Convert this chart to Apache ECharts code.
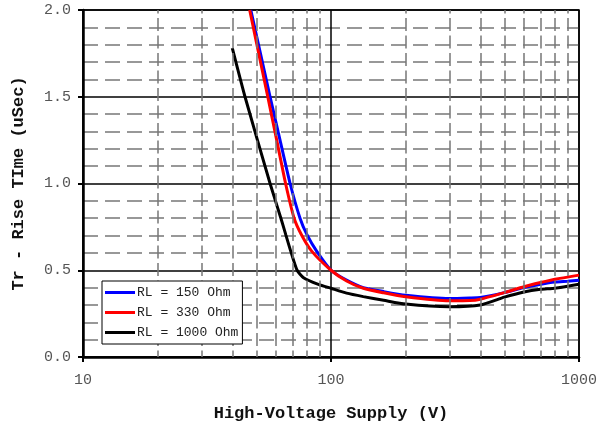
<!DOCTYPE html>
<html>
<head>
<meta charset="utf-8">
<script src="https://cdn.jsdelivr.net/npm/echarts@6/dist/echarts.min.js"></script>
<style>
  html, body { margin: 0; padding: 0; background: #fff; }
  #chart { width: 606px; height: 427px; }
</style>
</head>
<body>
<div id="chart"></div>
<script>
// supply voltage (V) and rise time (uSec)
const v150 = [47.5, 56.8, 62.3, 68.4, 75, 80, 87.5, 100, 115, 135, 163, 200, 300, 363, 400, 500, 600, 700, 800, 900, 1000]
const t150 = [2.0, 1.5, 1.25, 1.0, 0.8, 0.705, 0.61, 0.5, 0.445, 0.40, 0.377, 0.356, 0.337, 0.34, 0.343, 0.371, 0.40, 0.419, 0.432, 0.437, 0.443]

const v330 = [47.0, 55.6, 60.4, 65.6, 71, 76, 83.6, 100, 115.6, 135, 163, 200, 300, 363, 400, 500, 600, 700, 800, 1000]
const t330 = [2.0, 1.5, 1.25, 1.0, 0.8, 0.705, 0.61, 0.5, 0.438, 0.396, 0.37, 0.347, 0.324, 0.325, 0.333, 0.371, 0.405, 0.429, 0.448, 0.472]

const v1000 = [40, 45, 56.8, 62.8, 65.7, 68.8, 73, 77.5, 88.9, 100, 115.6, 135, 163, 200, 300, 400, 500, 600, 700, 800, 1000]
const t1000 = [1.78, 1.5, 1.0, 0.8, 0.705, 0.61, 0.5, 0.457, 0.419, 0.396, 0.368, 0.348, 0.327, 0.305, 0.29, 0.30, 0.345, 0.375, 0.39, 0.396, 0.419]

const seriesNames = ['RL = 150 Ohm', 'RL = 330 Ohm', 'RL = 1000 Ohm']
const xMinorLines = [20, 30, 40, 50, 60, 70, 80, 90, 200, 300, 400, 500, 600, 700, 800, 900]

const pairs = (xs, ys) => xs.map((x, i) => [x, ys[i]])

const chart = echarts.init(document.getElementById('chart'))

const mono = '"Liberation Mono", "DejaVu Sans Mono", monospace'

const curve = (name, color, data) => ({
  name: name,
  type: 'line',
  data: data,
  showSymbol: false,
  symbol: 'none',
  smooth: 0.2,
  z: 3,
  lineStyle: { color: color, width: 3 },
  itemStyle: { color: color }
})

const option = {
  animation: false,
  backgroundColor: '#fff',
  grid: {
    left: 83, right: 27, top: 10, bottom: 67,
    show: true,
    borderColor: '#000',
    borderWidth: 1.5
  },
  legend: {
    data: seriesNames,
    orient: 'vertical',
    left: 102,
    top: 281,
    z: 100,
    zlevel: 1,
    icon: 'rect',
    itemWidth: 30,
    itemHeight: 3,
    itemGap: 7,
    padding: [5, 4, 5, 3],
    backgroundColor: '#fff',
    borderColor: '#000',
    borderWidth: 1,
    borderRadius: 0,
    textStyle: { fontFamily: mono, fontSize: 13, color: '#222', padding: [0, 0, 0, -3] }
  },
  xAxis: {
    type: 'log',
    logBase: 10,
    min: 10,
    max: 1000,
    name: 'High-Voltage Supply (V)',
    nameLocation: 'middle',
    nameGap: 48,
    nameTextStyle: { fontFamily: mono, fontSize: 17, fontWeight: 'bold', color: '#111' },
    axisLine: { lineStyle: { color: '#000', width: 2.5 } },
    axisTick: { show: true, length: 5, lineStyle: { color: '#000', width: 2 } },
    axisLabel: { fontFamily: mono, fontSize: 15, color: '#555', margin: 16, formatter: v => String(v) },
    splitLine: { show: true, lineStyle: { color: '#000', width: 1.5 } }
  },
  yAxis: {
    type: 'value',
    min: 0,
    max: 2,
    interval: 0.5,
    name: 'Tr - Rise TIme (uSec)',
    nameLocation: 'middle',
    nameGap: 56,
    nameTextStyle: { fontFamily: mono, fontSize: 17, fontWeight: 'bold', color: '#111' },
    axisLine: { show: true, lineStyle: { color: '#000', width: 2.5 } },
    axisTick: { show: true, length: 5, lineStyle: { color: '#000', width: 2 } },
    axisLabel: {
      fontFamily: mono, fontSize: 15, color: '#555', margin: 12,
      formatter: v => v.toFixed(1)
    },
    splitLine: { show: true, lineStyle: { color: '#000', width: 1.5 } },
    minorTick: { show: false, splitNumber: 5 },
    minorSplitLine: { show: true, lineStyle: { color: '#777', width: 1.5, type: [15, 7] } }
  },
  series: [
    {
      name: 'grid',
      type: 'line',
      data: [],
      z: 1,
      markLine: {
        silent: true,
        symbol: 'none',
        label: { show: false },
        animation: false,
        lineStyle: { color: '#777', width: 1.5, type: [13, 4.5], dashOffset: 6.5 },
        data: xMinorLines.map(x => ({ xAxis: x }))
      }
    },
    curve(seriesNames[0], '#0000ff', pairs(v150, t150)),
    curve(seriesNames[1], '#ff0000', pairs(v330, t330)),
    curve(seriesNames[2], '#000000', pairs(v1000, t1000))
  ]
}

chart.setOption(option)
</script>
</body>
</html>
